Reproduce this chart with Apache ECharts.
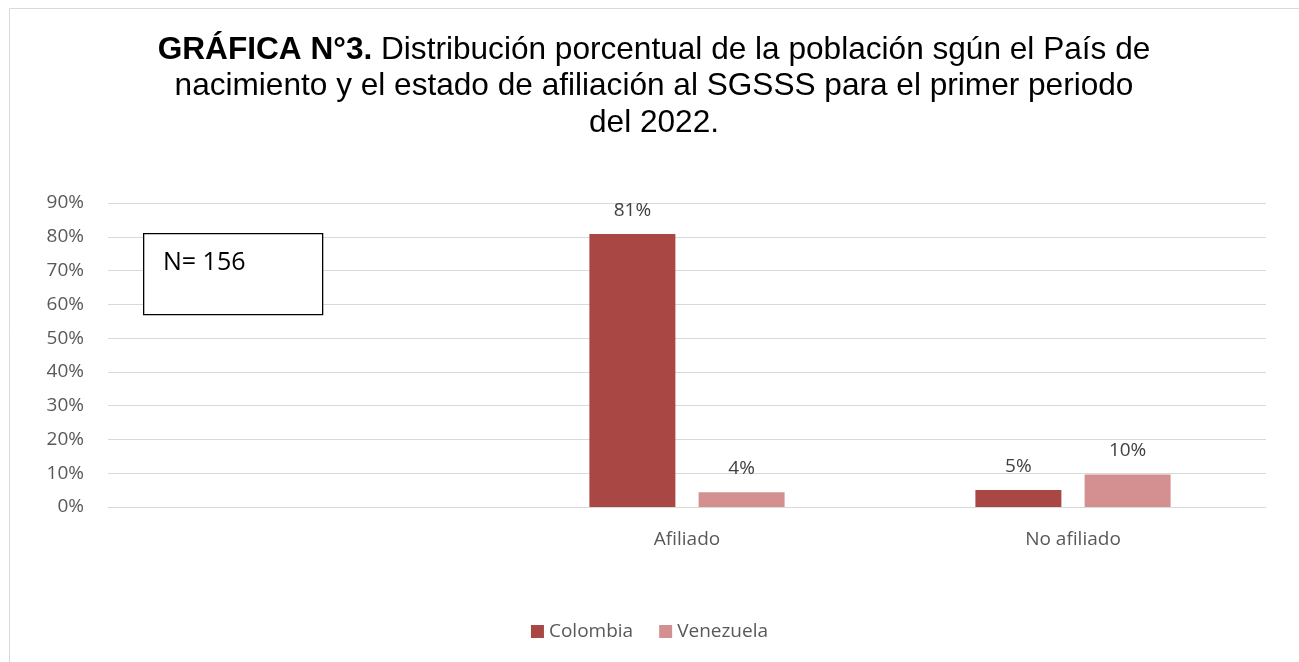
<!DOCTYPE html>
<html><head><meta charset="utf-8">
<script src="https://cdn.jsdelivr.net/npm/echarts@6/dist/echarts.min.js"></script>
<style>html,body{margin:0;padding:0;background:#fff}#c{width:1299px;height:662px}</style>
</head><body><div id="c"></div>
<script>
const categories = ['', 'Afiliado', 'No afiliado'];
const colombia = [null, 80.8, 5.0];
const venezuela = [null, 4.4, 9.6];
const yTicks = [0, 10, 20, 30, 40, 50, 60, 70, 80, 90];

const chart = echarts.init(document.getElementById('c'));
const lab = {show: true, position: 'top', distance: 14, color: '#404040', fontFamily: 'Open Sans', fontSize: 19,
  formatter: p => Math.round(p.value) + '%'};
chart.setOption({
  animation: false,
  backgroundColor: '#fff',
  title: {
    text: '{b|GRÁFICA N°3.} Distribución porcentual de la población sgún el País de\nnacimiento y el estado de afiliación al SGSSS para el primer periodo\ndel 2022.',
    left: 649, top: 27, textAlign: 'center',
    textStyle: {fontFamily: 'Liberation Sans', fontSize: 31.6, fontWeight: 'normal', color: '#000', lineHeight: 36.5, align: 'center',
      rich: {b: {fontFamily: 'Liberation Sans', fontSize: 31.6, fontWeight: 'bold', color: '#000', lineHeight: 36.5}}}
  },
  legend: {
    bottom: 16, left: 'center', itemWidth: 13, itemHeight: 13, itemGap: 26, icon: 'rect',
    textStyle: {fontFamily: 'Open Sans', fontSize: 19, color: '#595959'},
    data: ['Colombia', 'Venezuela']
  },
  grid: {left: 108, right: 33, top: 203, bottom: 155, containLabel: false},
  xAxis: {
    type: 'category', data: categories,
    axisLine: {lineStyle: {color: '#d9d9d9', width: 1}}, axisTick: {show: false},
    axisLabel: {color: '#595959', fontFamily: 'Open Sans', fontSize: 19, margin: 23}
  },
  yAxis: {
    type: 'value', min: 0, max: 90, interval: 10,
    axisLine: {show: false}, axisTick: {show: false},
    axisLabel: {color: '#595959', fontFamily: 'Open Sans', fontSize: 19, margin: 24,
      formatter: v => yTicks.includes(v) ? v + '%' : ''},
    splitLine: {lineStyle: {color: '#d9d9d9', width: 1}}
  },
  series: [
    {name: 'Colombia', type: 'bar', data: colombia, barWidth: 86, barGap: '27%', itemStyle: {color: '#A94744'}, label: lab},
    {name: 'Venezuela', type: 'bar', data: venezuela, barWidth: 86, itemStyle: {color: '#D49090'}, label: lab}
  ],
  graphic: [
    {type: 'rect', left: 7, top: 6, shape: {width: 1400, height: 800}, style: {fill: 'none', stroke: '#d9d9d9', lineWidth: 1}, silent: true, z: -1},
    {type: 'rect', left: 143, top: 233, shape: {width: 179, height: 81}, style: {fill: '#fff', stroke: '#000', lineWidth: 1.3}, z: 100},
    {type: 'text', left: 163, top: 250, style: {text: 'N= 156', fill: '#000', font: '25px "Open Sans"'}, z: 101}
  ]
});
</script></body></html>
